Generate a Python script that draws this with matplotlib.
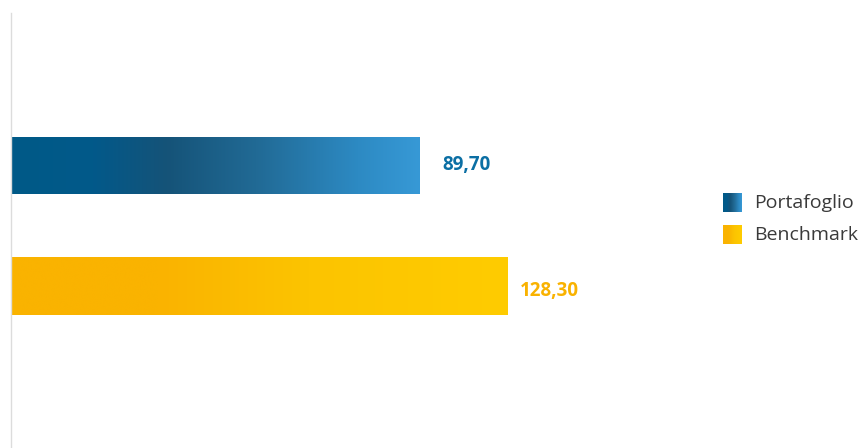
import matplotlib.pyplot as plt
import numpy as np
from matplotlib.colors import LinearSegmentedColormap

series = ['Portafoglio', 'Benchmark']
values = [89.70, 128.30]
value_labels = ['89,70', '128,30']
label_colors = ['#0b6fa4', '#f9b200']

gradients = [
    [(0.0, '#005a87'), (0.2, '#02598a'), (0.38, '#155378'), (0.6, '#216a95'),
     (0.85, '#2d8ac3'), (1.0, '#3799d6')],
    [(0.0, '#fab300'), (0.3, '#fab300'), (0.6, '#fcc400'), (1.0, '#ffcc00')],
]

W, H = 865, 448
fig = plt.figure(figsize=(W / 100, H / 100), dpi=100)

# plot area in pixels: left axis line at x=11, top at y=13
left, top, right, bottom = 11, 13, 690, 448
ax = fig.add_axes([left / W, 1 - bottom / H, (right - left) / W, (bottom - top) / H])

xmin, xmax = -89.6, 208.3
ax.set_xlim(xmin, xmax)
ax.set_ylim(2.35, -1.27)

ypos = np.arange(len(series))
bars = ax.barh(ypos, [v - xmin for v in values], left=xmin, height=0.48,
               color='none', edgecolor='none')

label_dy = [-1, 5]
for bar, stops, lab, col, v, dy in zip(bars, gradients, value_labels, label_colors, values, label_dy):
    cmap = LinearSegmentedColormap.from_list('g', stops)
    x0, y0 = bar.get_x(), bar.get_y()
    grad = np.linspace(0, 1, 256).reshape(1, -1)
    im = ax.imshow(grad, cmap=cmap, aspect='auto', interpolation='bicubic',
                   extent=(x0, x0 + bar.get_width(), y0 + bar.get_height(), y0),
                   zorder=2)
    im.set_clip_path(bar)
    ax.annotate(lab, (v, y0 + bar.get_height() / 2), xytext=(51, -dy * 0.72),
                textcoords='offset points', color=col, fontsize=13.5,
                fontweight='bold', family='Open Sans', va='center', ha='right')

ax.set_xlim(xmin, xmax)
ax.set_ylim(2.35, -1.27)

for s in ['top', 'right', 'bottom']:
    ax.spines[s].set_visible(False)
ax.spines['left'].set_color('#dcdcdc')
ax.spines['left'].set_linewidth(1)
ax.set_xticks([])
ax.set_yticks([])

# legend with gradient swatches
for i, (name, stops) in enumerate(zip(series, gradients)):
    sy = 193 + i * 32
    lax = fig.add_axes([723 / W, 1 - (sy + 19) / H, 19 / W, 19 / H])
    cmap = LinearSegmentedColormap.from_list('g', stops)
    lax.imshow(np.linspace(0, 1, 64).reshape(1, -1), cmap=cmap, aspect='auto')
    lax.axis('off')
    fig.text(754 / W, 1 - (sy + 10) / H, name, fontsize=14, color='#3a3a3a',
             family='Open Sans', va='center', ha='left')

fig.savefig('out.png', dpi=100, facecolor='white')
